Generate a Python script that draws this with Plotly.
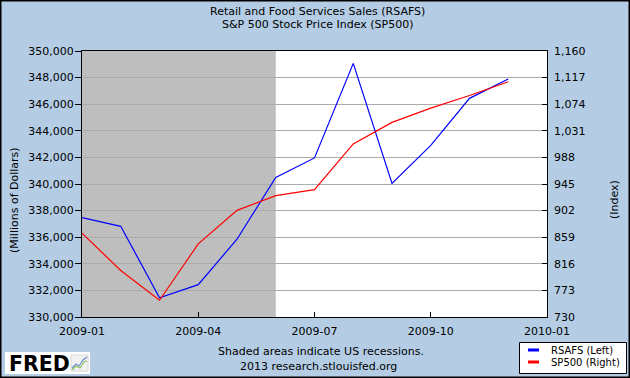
import plotly.graph_objects as go

# ---------------- data ----------------
months = ["2009-01", "2009-02", "2009-03", "2009-04", "2009-05", "2009-06",
          "2009-07", "2009-08", "2009-09", "2009-10", "2009-11", "2009-12"]
rsafs = [337480, 336820, 331450, 332430, 335850, 340490,
         341960, 349070, 340040, 342900, 346440, 347890]
sp500 = [865.58, 805.23, 757.13, 848.15, 902.41, 926.12,
         935.82, 1009.72, 1044.55, 1067.66, 1088.07, 1110.38]
left_ticks = list(range(330000, 350001, 2000))
right_ticks = [730, 773, 816, 859, 902, 945, 988, 1031, 1074, 1117, 1160]
x_tick_labels = ["2009-01", "2009-04", "2009-07", "2009-10", "2010-01"]
recession_start, recession_end = "2009-01", "2009-06"

# month index positions (FRED spaces monthly observations evenly)
all_months = months + ["2010-01"]
xi = [all_months.index(m) for m in months]
x_tick_vals = [all_months.index(m) for m in x_tick_labels]

# ---------------- layout helpers ----------------
W_IMG, H_IMG = 630, 378
PL, PR, PT, PB = 82, 547, 51, 317
PW, PH = PR - PL, PB - PT


def px(x):
    return (x - PL) / PW


def py(y):
    return (PB - y) / PH


FONT = "DejaVu Sans"
BG = "#B4CDE5"

fig = go.Figure()
fig.add_trace(go.Scatter(x=xi, y=rsafs, mode="lines", name="RSAFS (Left)",
                         line=dict(color="#0000FF", width=1.2), yaxis="y"))
fig.add_trace(go.Scatter(x=xi, y=sp500, mode="lines", name="SP500 (Right)",
                         line=dict(color="#FF0000", width=1.2), yaxis="y2"))

shapes = [
    # recession shading
    dict(type="rect", xref="x", yref="paper",
         x0=all_months.index(recession_start), x1=all_months.index(recession_end),
         y0=0, y1=1, fillcolor="#BEBEBE", line=dict(width=0), layer="between"),
    # outer border
    dict(type="rect", xref="paper", yref="paper",
         x0=px(0.5), x1=px(W_IMG - 0.5), y0=py(0.5), y1=py(H_IMG - 0.5),
         line=dict(color="black", width=2), fillcolor="rgba(0,0,0,0)"),
    # legend box
    dict(type="rect", xref="paper", yref="paper",
         x0=px(519.5), x1=px(626.5), y0=py(342.5), y1=py(373.5),
         line=dict(color="black", width=1), fillcolor="white"),
    dict(type="line", xref="paper", yref="paper",
         x0=px(528), x1=px(539), y0=py(350), y1=py(350),
         line=dict(color="#0000FF", width=3)),
    dict(type="line", xref="paper", yref="paper",
         x0=px(528), x1=px(539), y0=py(362), y1=py(362),
         line=dict(color="#FF0000", width=3)),
    # FRED logo box
    dict(type="rect", xref="paper", yref="paper",
         x0=px(5), x1=px(90), y0=py(352), y1=py(374),
         line=dict(width=0), fillcolor="white"),
    dict(type="rect", xref="paper", yref="paper",
         x0=px(71), x1=px(88), y0=py(355), y1=py(371),
         line=dict(color="#d8d8d8", width=1), fillcolor="#f2f2f2"),
    dict(type="path", xref="paper", yref="paper",
         path="M {} {} L {} {} L {} {} L {} {} L {} {}".format(
             px(72), py(368), px(76), py(364), px(79), py(366), px(83), py(360), px(87), py(357)),
         line=dict(color="#6a8fd0", width=1.2)),
    dict(type="path", xref="paper", yref="paper",
         path="M {} {} L {} {} L {} {} L {} {} L {} {}".format(
             px(72), py(370), px(76), py(366), px(80), py(368), px(84), py(362), px(87), py(361)),
         line=dict(color="#8bbf5a", width=1.2)),
]

annotations = [
    dict(text="Retail and Food Services Sales (RSAFS)", x=px(317), y=py(11)),
    dict(text="S&P 500 Stock Price Index (SP500)", x=px(317), y=py(25)),
    dict(text="Shaded areas indicate US recessions.", x=px(321), y=py(351)),
    dict(text="2013 research.stlouisfed.org", x=px(318), y=py(366)),
    dict(text="(Millions of Dollars)", x=px(14), y=py(200), textangle=-90),
    dict(text="(Index)", x=px(614), y=py(200), textangle=-90),
    dict(text="RSAFS (Left)", x=px(549), y=py(350), xanchor="left", size=10),
    dict(text="SP500 (Right)", x=px(549), y=py(362), xanchor="left", size=10),
    dict(text="<b>FRED</b>", x=px(7), y=py(363.5), xanchor="left", size=20.5),
]
ann_objs = []
for a in annotations:
    size = a.pop("size", 11)
    ann_objs.append(dict(xref="paper", yref="paper", showarrow=False,
                         xanchor=a.pop("xanchor", "center"), yanchor="middle",
                         font=dict(family=FONT, size=size, color="black"), **a))

fig.update_layout(
    width=W_IMG, height=H_IMG,
    margin=dict(l=PL, r=W_IMG - PR, t=PT, b=H_IMG - PB, pad=0),
    paper_bgcolor=BG, plot_bgcolor="white",
    showlegend=False,
    font=dict(family=FONT, size=11, color="black"),
    xaxis=dict(range=[0, len(all_months) - 1], tickmode="array",
               tickvals=x_tick_vals, ticktext=x_tick_labels,
               ticks="inside", ticklen=5, tickcolor="black", ticklabelstandoff=4,
               showgrid=False, zeroline=False,
               showline=True, linecolor="black", linewidth=1, mirror=True,
               tickfont=dict(family=FONT, size=11, color="black")),
    yaxis=dict(range=[left_ticks[0], left_ticks[-1]], tickmode="array",
               tickvals=left_ticks, tickformat=",d",
               ticks="outside", ticklen=6, tickcolor="black", ticklabelstandoff=-1,
               showgrid=True, gridcolor="#ABABAB", gridwidth=1, zeroline=False,
               showline=True, linecolor="black", linewidth=1, mirror=True,
               tickfont=dict(family=FONT, size=11, color="black")),
    yaxis2=dict(range=[right_ticks[0], right_ticks[-1]], tickmode="array",
                tickvals=right_ticks, tickformat=",d", overlaying="y", side="right",
                ticks="inside", ticklen=5, tickcolor="black", ticklabelstandoff=6,
                showgrid=False, zeroline=False, showline=False,
                tickfont=dict(family=FONT, size=11, color="black")),
    shapes=shapes,
    annotations=ann_objs,
)

fig.write_html("out.html", config={"displayModeBar": False},
               post_script="document.body.style.margin='0';document.body.style.overflow='hidden';")
